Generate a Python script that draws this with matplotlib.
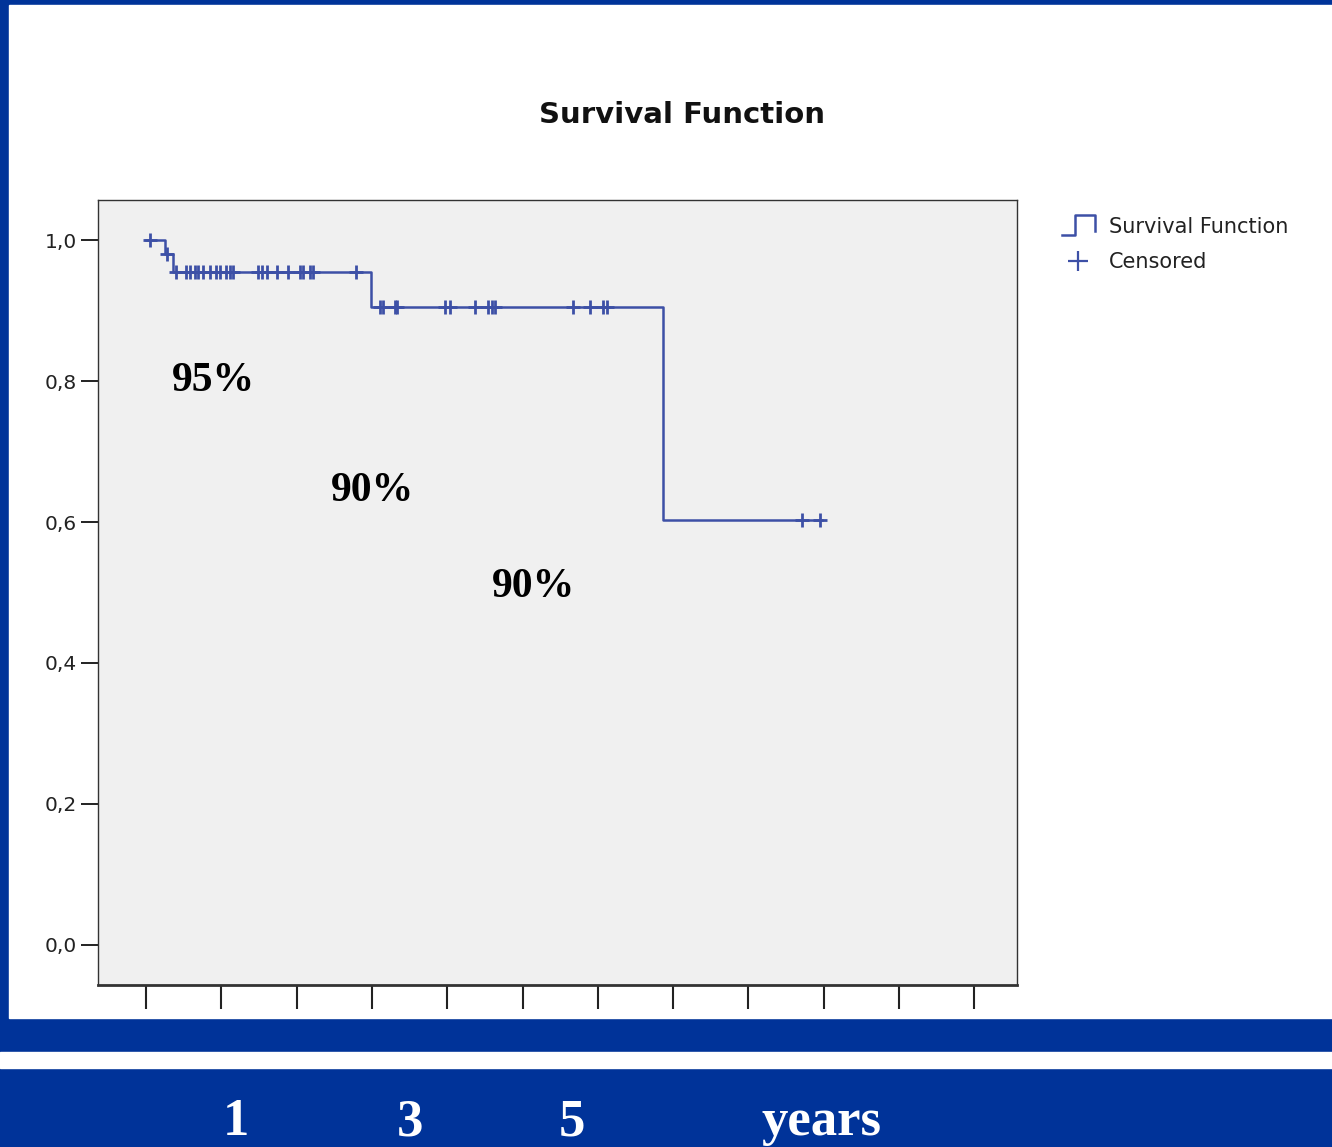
import numpy as np
import matplotlib.pyplot as plt
from matplotlib.patches import Rectangle
from matplotlib.lines import Line2D
from matplotlib.legend_handler import HandlerBase

# Kaplan-Meier steps (time in years, cumulative survival)
step_times = [0.0, 0.25, 0.36, 2.99, 6.87]
step_surv = [1.0, 0.98, 0.955, 0.905, 0.603]
end_time = 8.98

# censored observations
cens_times = [0.05, 0.28,
              0.40, 0.53, 0.58, 0.65, 0.69, 0.76, 0.85, 0.93, 0.98, 1.06, 1.12, 1.16,
              1.49, 1.54, 1.61, 1.74, 1.89, 2.05, 2.09, 2.18, 2.22, 2.79,
              3.11, 3.15, 3.31, 3.33, 3.97, 4.04, 4.37, 4.54, 4.60, 4.64,
              5.67, 5.90, 6.07, 6.12,
              8.71, 8.95]

pct_labels = ["95%", "90%", "90%"]
pct_pos = [(0.89, 0.80), (3.01, 0.644), (5.14, 0.508)]

year_labels = ["1", "3", "5", "years"]
year_x = [236, 410, 572, 821]   # pixel centres in the lower band

BLUE = "#003399"
LINE = "#3D50A6"
W, H = 1332, 1147


def surv_at(t):
    idx = np.searchsorted(step_times, t, side="right") - 1
    return np.array(step_surv)[idx]


class StepHandler(HandlerBase):
    def create_artists(self, legend, orig, xd, yd, width, height, fontsize, trans):
        xs = [xd, xd + width * 0.4, xd + width * 0.4, xd + width, xd + width]
        ys = [yd - height * 0.15, yd - height * 0.15, yd + height * 1.2,
              yd + height * 1.2, yd + height * 0.1]
        ln = Line2D(xs, ys, color=LINE, lw=1.8, transform=trans)
        return [ln]


fig = plt.figure(figsize=(W / 100, H / 100), dpi=100, facecolor=BLUE)

# white panels on the blue frame
fig.patches.append(Rectangle((9 / W, 1 - 1018 / H), 1 - 9 / W, (1018 - 5) / H,
                             transform=fig.transFigure, color="white", zorder=-1))
fig.patches.append(Rectangle((0, 1 - 1068 / H), 1, 16 / H,
                             transform=fig.transFigure, color="white", zorder=-1))

ax = fig.add_axes([98 / W, 1 - 985 / H, (1017 - 98) / W, (985 - 200) / H])
ax.set_zorder(2)
ax.set_facecolor("#F0F0F0")

t = step_times + [end_time]
s = step_surv + [step_surv[-1]]
ax.step(t, s, where="post", color=LINE, lw=1.8, label="Survival Function")
ax.plot(cens_times, surv_at(cens_times), ls="none", marker="+", ms=10, mew=2,
        color=LINE, label="Censored")

for txt, (x, y) in zip(pct_labels, pct_pos):
    ax.text(x, y, txt, ha="center", va="center", fontsize=30, fontweight="bold",
            family="Liberation Serif", color="black")

ax.set_xlim(-0.64, 11.57)
ax.set_ylim(-0.057, 1.057)
ax.set_yticks([0.0, 0.2, 0.4, 0.6, 0.8, 1.0])
ax.set_yticklabels(["0,0", "0,2", "0,4", "0,6", "0,8", "1,0"])
ax.set_xticks(range(12))
ax.set_xticklabels([])
ax.tick_params(axis="y", length=12, width=1.4, labelsize=14.5, colors="#222222", pad=3)
ax.tick_params(axis="x", length=17, width=1.5, colors="#222222")
for sp in ax.spines.values():
    sp.set_color("#333333")
    sp.set_linewidth(1.0)
ax.spines["bottom"].set_linewidth(2)

fig.text(682 / W, 1 - 115 / H, "Survival Function", ha="center", va="center",
         fontsize=21, fontweight="bold", color="#111111")

handles, labels = ax.get_legend_handles_labels()
leg = ax.legend(handles, labels, loc="upper left", bbox_to_anchor=(1043 / W, 1 - 198 / H),
                bbox_transform=fig.transFigure, frameon=False, fontsize=15,
                handler_map={handles[0]: StepHandler()}, handlelength=1.6,
                handletextpad=0.65, labelspacing=0.75, labelcolor="#222222")
leg.legend_handles[1].set_markersize(14)
leg.legend_handles[1].set_markeredgewidth(1.6)

for txt, x in zip(year_labels, year_x):
    fig.text(x / W, 1 - 1122 / H, txt, ha="center", va="center", fontsize=38,
             fontweight="bold", family="Liberation Serif", color="white")

fig.savefig("out.png", dpi=100, facecolor=BLUE)
